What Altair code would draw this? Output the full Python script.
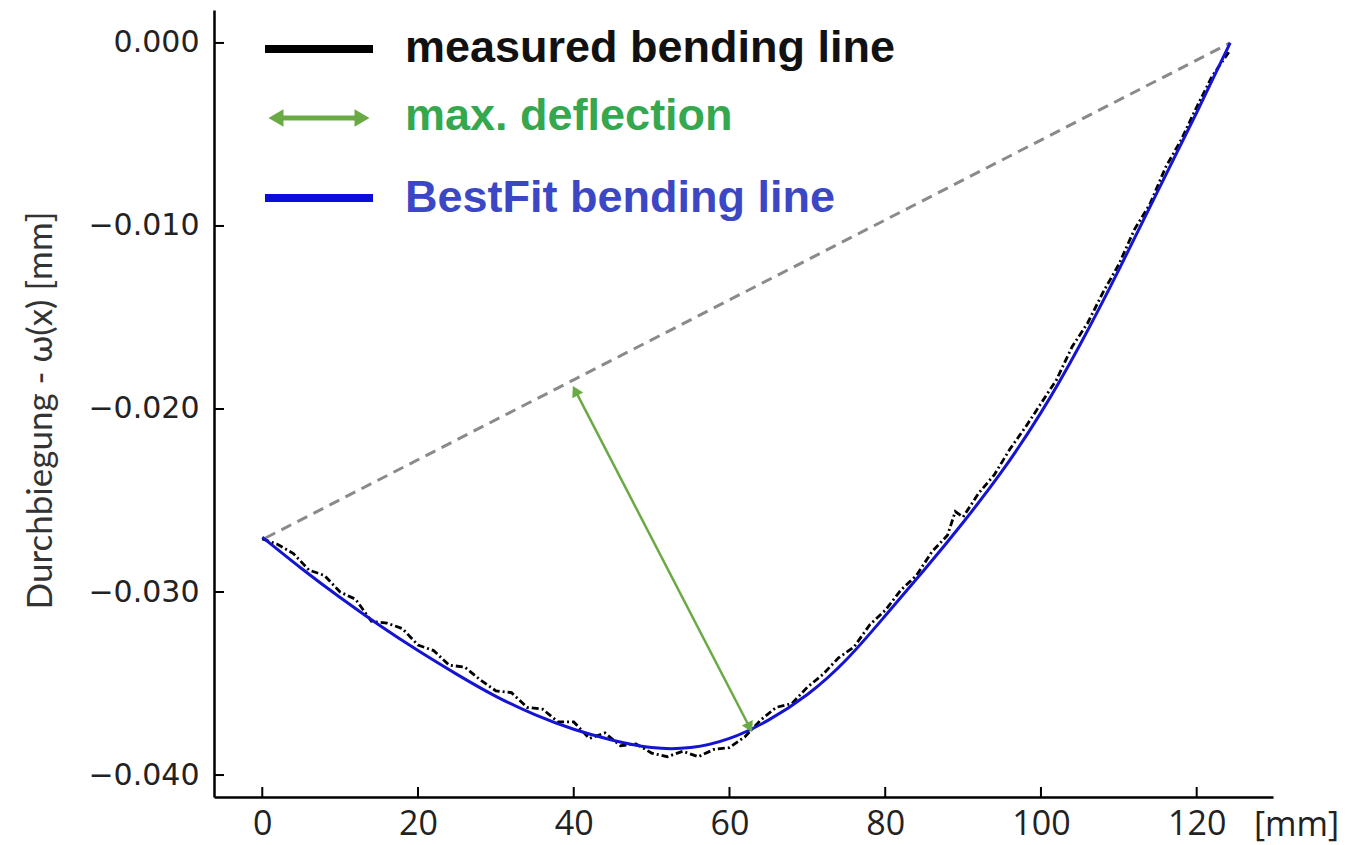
import altair as alt
import pandas as pd
import math

# ---------------- data ----------------
fit_x = [0, 5, 10, 15, 20, 25, 30, 35, 40, 45, 50, 55, 60, 65, 70, 75, 80, 85, 90, 95, 100, 105, 110, 115, 120, 124.3]
fit_y = [-0.0270, -0.0287, -0.0303, -0.0318, -0.0332, -0.0345, -0.0357, -0.0367, -0.0375, -0.0381,
         -0.0385, -0.0385, -0.0380, -0.0370, -0.0356, -0.0337, -0.0313, -0.0288, -0.0262, -0.0234,
         -0.0202, -0.0165, -0.0124, -0.0081, -0.0038, 0.0]

meas_x = [0, 2, 4, 6, 8, 10, 12, 14, 16, 18, 20, 22, 24, 26, 28, 30, 32, 34, 36, 38, 40, 42, 44, 46, 48,
          50, 52, 54, 56, 58, 60, 62, 64, 66, 68, 70, 72, 74, 76, 78, 80, 82, 84, 86, 88, 89, 90, 92, 94,
          96, 98, 100, 102, 104, 106, 108, 110, 112, 114, 116, 118, 120, 122, 124.3]
meas_y = [-0.0271, -0.0274, -0.0279, -0.0288, -0.0291, -0.0300, -0.0304, -0.0316, -0.0317, -0.0320,
          -0.0329, -0.0332, -0.0340, -0.0341, -0.0348, -0.0354, -0.0355, -0.0363, -0.0364, -0.0371,
          -0.0371, -0.0380, -0.0377, -0.0384, -0.0383, -0.0388, -0.0390, -0.0387, -0.0390, -0.0386,
          -0.0385, -0.0379, -0.0370, -0.0363, -0.0361, -0.0352, -0.0345, -0.0336, -0.0330, -0.0318,
          -0.0310, -0.0299, -0.0291, -0.0278, -0.0269, -0.0256, -0.0259, -0.0246, -0.0236, -0.0222,
          -0.0210, -0.0197, -0.0184, -0.0166, -0.0153, -0.0136, -0.0121, -0.0102, -0.0088, -0.0068,
          -0.0053, -0.0035, -0.0018, -0.0004]

chord_x = [0.4, 124.3]
chord_y = [-0.02705, 0.0]

arrow_x = [40.2, 62.6]
arrow_y = [-0.0190, -0.0374]

x_ticks = [0, 20, 40, 60, 80, 100, 120]
y_ticks = [0.0, -0.01, -0.02, -0.03, -0.04]

legend_labels = ["measured bending line", "max. deflection", "BestFit bending line"]

# ---------------- layout ----------------
W, H = 1059, 787
X_DOM = [-6.2, 129.8]
Y_DOM = [-0.0412, 0.0018]

xs = alt.Scale(domain=X_DOM, nice=False, zero=False)
ys = alt.Scale(domain=Y_DOM, nice=False, zero=False)

xaxis = alt.Axis(values=x_ticks, ticks=False, grid=False, title=None,
                 labelFont="Open Sans", labelFontSize=34, labelColor="#222222",
                 labelPadding=10, domainColor="black", domainWidth=2.5)
yaxis = alt.Axis(values=y_ticks, format=".3f", ticks=False, grid=False,
                 labelFont="DejaVu Sans", labelFontSize=30, labelColor="#222222",
                 labelPadding=15, domainColor="black", domainWidth=2.5,
                 title="Durchbiegung - ω(x) [mm]", titleFont="Lato", titleFontSize=35,
                 titleFontWeight="normal", titleColor="#333333",
                 titleX=-174, titleY=400, titleAlign="center", titleBaseline="middle")

X = alt.X("x:Q", scale=xs, axis=xaxis)
Y = alt.Y("y:Q", scale=ys, axis=yaxis)

fit_df = pd.DataFrame({"x": fit_x, "y": fit_y})
meas_df = pd.DataFrame({"x": meas_x, "y": meas_y})
chord_df = pd.DataFrame({"x": chord_x, "y": chord_y})
arrow_df = pd.DataFrame({"x": arrow_x, "y": arrow_y})

# arrow head angles (screen space)
sx = W / (X_DOM[1] - X_DOM[0])
sy = H / (Y_DOM[1] - Y_DOM[0])
dx = (arrow_x[0] - arrow_x[1]) * sx
dy = (arrow_y[0] - arrow_y[1]) * sy
ang_top = (math.degrees(math.atan2(dx, dy)) + 360) % 360
ang_bot = (ang_top + 180) % 360
heads_df = pd.DataFrame({"x": arrow_x, "y": arrow_y, "a": [ang_top, ang_bot]})

GREEN = "#6aaa45"

chord = alt.Chart(chord_df).mark_line(color="#8a8a8a", strokeWidth=3, strokeDash=[11, 7]).encode(x=X, y=Y)
meas = alt.Chart(meas_df).mark_line(color="black", strokeWidth=2.8, strokeDash=[7, 3, 2, 3]).encode(x=X, y=Y)
fit = alt.Chart(fit_df).mark_line(color="#1414d2", strokeWidth=3, interpolate="natural").encode(x=X, y=Y)
shaft = alt.Chart(arrow_df).mark_line(color=GREEN, strokeWidth=2.5).encode(x=X, y=Y)
heads = alt.Chart(heads_df).mark_point(shape="triangle-up", filled=True, color=GREEN, size=150, opacity=1).encode(
    x=X, y=Y, angle=alt.Angle("a:Q", scale=None))

xt_df = pd.DataFrame({"x": x_ticks})
yt_df = pd.DataFrame({"y": y_ticks})
xtick = alt.Chart(xt_df).mark_rule(color="black", strokeWidth=2).encode(x=X, y=alt.value(H), y2=alt.value(H - 10))
ytick = alt.Chart(yt_df).mark_rule(color="black", strokeWidth=2).encode(y=Y, x=alt.value(0), x2=alt.value(10))

one = pd.DataFrame({"k": [0]})
unit_lbl = alt.Chart(one).mark_text(text="[mm]", font="Open Sans", fontSize=34, color="#222222",
                                    align="left", baseline="top").encode(x=alt.value(1040), y=alt.value(H + 12))

# legend
leg_black = alt.Chart(one).mark_rule(color="black", strokeWidth=8).encode(
    x=alt.value(51), x2=alt.value(159), y=alt.value(39))
leg_blue = alt.Chart(one).mark_rule(color="#0c0ce0", strokeWidth=8).encode(
    x=alt.value(51), x2=alt.value(159), y=alt.value(188))
leg_green = alt.Chart(one).mark_rule(color=GREEN, strokeWidth=5).encode(
    x=alt.value(60), x2=alt.value(150), y=alt.value(108))
leg_gl = alt.Chart(one).mark_point(shape="triangle-left", filled=True, color=GREEN, size=300, opacity=1).encode(
    x=alt.value(62), y=alt.value(108))
leg_gr = alt.Chart(one).mark_point(shape="triangle-right", filled=True, color=GREEN, size=300, opacity=1).encode(
    x=alt.value(148), y=alt.value(108))

def leg_text(label, color, ypos):
    return alt.Chart(one).mark_text(text=label, font="Liberation Sans", fontWeight="bold", fontSize=45,
                                    color=color, align="left", baseline="alphabetic").encode(
        x=alt.value(191), y=alt.value(ypos))

t1 = leg_text(legend_labels[0], "#111111", 52)
t2 = leg_text(legend_labels[1], "#35a84f", 120)
t3 = leg_text(legend_labels[2], "#3b47c4", 202)

chart = alt.layer(
    chord, meas, fit, shaft, heads, xtick, ytick, unit_lbl,
    leg_black, leg_green, leg_gl, leg_gr, leg_blue, t1, t2, t3
).properties(
    width=W, height=H,
    autosize=alt.AutoSizeParams(type="none"),
    padding={"left": 214, "top": 10, "right": 74, "bottom": 48},
    background="white",
).configure_view(stroke=None)

chart.save("out.html", embed_options={"renderer": "svg", "actions": False})
